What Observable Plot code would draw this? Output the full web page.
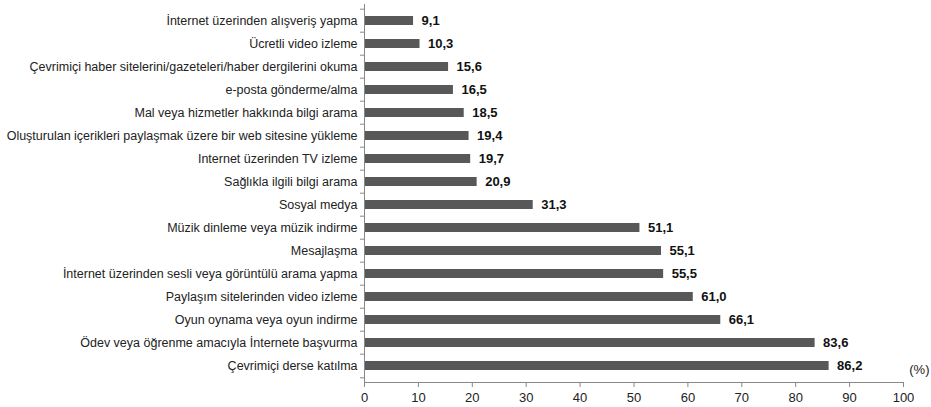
<!DOCTYPE html>
<html><head><meta charset="utf-8">
<script src="https://cdn.jsdelivr.net/npm/d3@7"></script>
<script src="https://cdn.jsdelivr.net/npm/@observablehq/plot@0.6"></script>
<style>body{margin:0;background:#fff;} svg{font-family:"Liberation Sans",Arial,sans-serif;}</style>
</head><body><div id="chart"></div>
<script>
const categories = [
  "İnternet üzerinden alışveriş yapma",
  "Ücretli video izleme",
  "Çevrimiçi haber sitelerini/gazeteleri/haber dergilerini okuma",
  "e-posta gönderme/alma",
  "Mal veya hizmetler hakkında bilgi arama",
  "Oluşturulan içerikleri paylaşmak üzere bir web sitesine yükleme",
  "Internet üzerinden TV izleme",
  "Sağlıkla ilgili bilgi arama",
  "Sosyal medya",
  "Müzik dinleme veya müzik indirme",
  "Mesajlaşma",
  "İnternet üzerinden sesli veya görüntülü arama yapma",
  "Paylaşım sitelerinden video izleme",
  "Oyun oynama veya oyun indirme",
  "Ödev veya öğrenme amacıyla İnternete başvurma",
  "Çevrimiçi derse katılma"
];
const values = [9.1, 10.3, 15.6, 16.5, 18.5, 19.4, 19.7, 20.9, 31.3, 51.1, 55.1, 55.5, 61.0, 66.1, 83.6, 86.2];
const xTicks = [0,10,20,30,40,50,60,70,80,90,100];
const unitLabel = "(%)";

const data = categories.map((c,i)=>({cat:c, v:values[i]}));
const fmt = v => v.toFixed(1).replace(".", ",");

const chart = Plot.plot({
  width: 931, height: 407,
  marginLeft: 364, marginRight: 28, marginTop: 4, marginBottom: 25,
  style: {fontSize: "12.5px", color: "#222"},
  x: {domain: [0,100], ticks: xTicks, label: null},
  y: {domain: categories, paddingInner: 0.62, paddingOuter: 0.31, label: null},
  marks: [
    Plot.barX(data, {x: "v", y: "cat", fill: "#585858"}),
    Plot.text(data, {x: "v", y: "cat", text: d => fmt(d.v), textAnchor: "start", dx: 8, fontWeight: "bold", fontSize: 13, fill: "#111"}),
    Plot.axisY({tickSize: 0, tickPadding: 7, fontSize: 12.5, fill: "#222"}),
    Plot.axisX({ticks: xTicks, tickSize: 5, tickPadding: 5, fontSize: 13, stroke: "#888", fill: "#222"}),
    Plot.ruleY(categories, {y: d => d, x1: 0, x2: 0, insetLeft: -4, dy: -11.8, stroke: "#888"}),
    Plot.ruleY(categories.slice(-1), {y: d => d, x1: 0, x2: 0, insetLeft: -4, dy: 11.8, stroke: "#888"}),
    Plot.frame({anchor: "left", stroke: "#888"}),
    Plot.frame({anchor: "bottom", stroke: "#888"}),
    Plot.text([unitLabel], {frameAnchor: "bottom-right", text: d => d, dx: 26, dy: -9, fontSize: 13, fill: "#222"})
  ]
});
document.getElementById("chart").appendChild(chart);
</script></body></html>
